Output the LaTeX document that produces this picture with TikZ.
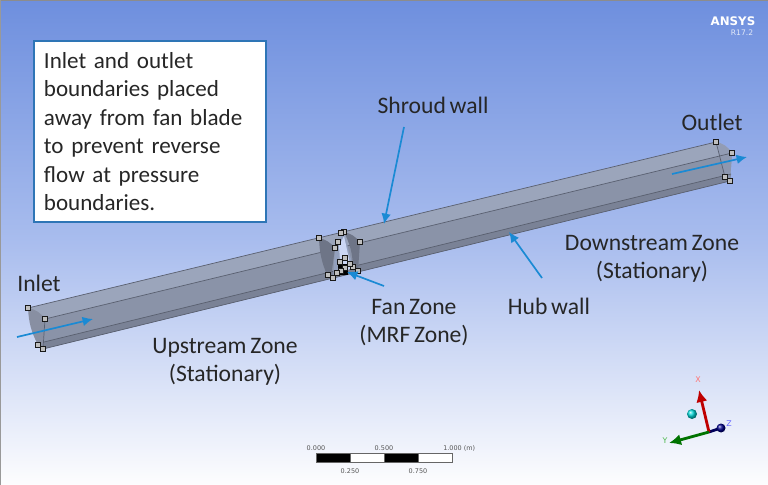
\documentclass[tikz,border=0pt]{standalone}
\usepackage{fontspec}
\setmainfont{Carlito}[WordSpace=0.7]
\newfontfamily\ansysfont{DejaVu Sans}
\usepackage{tikz}
\usetikzlibrary{positioning,arrows.meta,calc,shadings}
\definecolor{skytop}{HTML}{6E8FDE}
\definecolor{skymid}{HTML}{A9BDEE}
\definecolor{skylow}{HTML}{FDFDFE}
\definecolor{topface}{HTML}{9BA5BB}
\definecolor{sideface}{HTML}{8A93A8}
\definecolor{chamfer}{HTML}{7A8296}
\definecolor{endface}{HTML}{888FA2}
\definecolor{edge}{HTML}{5A6070}
\definecolor{callout}{HTML}{1A8AD4}
\definecolor{boxline}{HTML}{2E75B6}
\definecolor{bartext}{HTML}{555555}

\begin{document}
\begin{tikzpicture}[
  x=0.025cm, y=-0.025cm,
  every node/.style={font=\fontsize{16.8pt}{20pt}\selectfont, text=black!85},
  lbl/.style={align=center, inner sep=0pt},
  barlbl/.style={font=\fontsize{4.6pt}{5pt}\selectfont\ansysfont, text=bartext, inner sep=0pt},
  triadlbl/.style={font=\fontsize{5.6pt}{6pt}\selectfont\ansysfont, inner sep=0pt},
  callarrow/.style={-{Latex[length=2.6mm,width=2.4mm]}, line width=1.2pt, callout},
  handle/.style={draw=black!90, fill=black!25, line width=0.8pt, minimum size=3.2pt, inner sep=0pt, rectangle},
  ductedge/.style={draw=edge, line width=0.5pt},
]
  \useasboundingbox (0,0) rectangle (768,485);

  % Viewport background
  \shade[top color=skytop, bottom color=skylow, middle color=skymid, shading angle=0]
    (0,0) rectangle (768,485);
  \draw[black!45, line width=0.5pt] (0,0) -- (768,0);
  \draw[black!40, line width=1pt] (0,0) -- (0,485);

  % Duct faces
  \coordinate (inA) at (28,308);
  \coordinate (inB) at (45,319);
  \coordinate (inC) at (43,349);
  \coordinate (inD) at (38,345);
  \coordinate (outA) at (716,142);
  \coordinate (outB) at (732,153);
  \coordinate (outC) at (730,181);
  \coordinate (outD) at (725,177);

  \fill[topface] (inA) -- (outA) to[bend left=22] (outB) -- (inB) -- cycle;
  \fill[sideface] (inB) -- (outB) -- (outC) -- (inC) -- cycle;
  \fill[chamfer] (44,342) -- (731,174) -- (outC) -- (inC) -- cycle;
  \fill[endface] (inA) to[bend left=22] (inB) -- (inC) -- (inD) to[bend left=12] cycle;
  \fill[sideface!85!skymid, opacity=.75] (outA) to[bend left=22] (outB) -- (outC) -- (outD) -- cycle;
  \draw[ductedge] (inA) -- (outA);
  \draw[ductedge] (inB) -- (outB);
  \draw[ductedge] (44,342) -- (731,174);
  \draw[ductedge] (inC) -- (outC);
  \draw[ductedge] (inB) -- (inC);
  \draw[ductedge] (outA) -- (outD);

  % Fan zone
  \fill[sideface!70!skymid] (335,248) -- (344,232) -- (353,267) -- (333,278) -- cycle;
  \fill[skymid!60!white] (339,246) -- (344,236) -- (351,268) -- (341,274) -- cycle;
  \fill[chamfer!90!black] (319,238) to[bend left=18] (335,248) -- (331,277) -- (327,275) to[bend left=10] cycle;
  \fill[chamfer!90!black] (344,232) to[bend left=18] (360,242) -- (358,271) -- (353,267) to[bend right=12] cycle;
  \fill[black] (338,264) rectangle (348,275);
  \foreach \px/\py [count=\i] in {319/238, 335/248, 328/275, 333/278, 344/232, 341/233,
      338/242, 360/242, 358/271, 353/267, 345/258, 340/262, 345/268, 341/271, 350/264, 337/273}
    \node[handle] (fan\i) at (\px,\py) {};

  % Corner handles
  \node[handle] (h1) at (inA) {};
  \node[handle] (h2) at (inB) {};
  \node[handle] (h3) at (inC) {};
  \node[handle] (h4) at (inD) {};
  \node[handle] (h5) at (outA) {};
  \node[handle] (h6) at (outB) {};
  \node[handle] (h7) at (outC) {};
  \node[handle] (h8) at (outD) {};

  % Note box
  \node[draw=boxline, fill=white, line width=0.8pt, minimum width=5.8cm, minimum height=4.525cm,
        align=left, text width=5.3cm, inner sep=0pt,
        font=\fontsize{16.4pt}{20.2pt}\selectfont] (note) at (150,131.5)
    {Inlet and outlet\\boundaries placed\\away from fan blade\\to prevent reverse\\flow at pressure\\boundaries.};

  % Labels
  \node[lbl] (inlet)   at (39,283)  {Inlet};
  \node[lbl] (outlet)  at (712,122) {Outlet};
  \node[lbl] (shroud)  at (433,105) {Shroud wall};
  \node[lbl] (hub)     at (549,306) {Hub wall};
  \node[lbl] (down)    at (652,259) {Downstream Zone\\(Stationary)};
  \node[lbl] (up)      at (225,361.5) {Upstream Zone\\(Stationary)};
  \node[lbl] (fanzone) at (414,322.5) {Fan Zone\\(MRF Zone)};

  % Callout arrows
  \coordinate (inTail) at (17,337);
  \coordinate (inTip) at (93,319);
  \coordinate (outTail) at (672,174);
  \coordinate (outTip) at (747,157);
  \coordinate (shroudTail) at (404,127);
  \coordinate (shroudTip) at (384,224);
  \coordinate (hubTail) at (542,278);
  \coordinate (hubTip) at (509,232);
  \coordinate (fanTail) at (384,286);
  \coordinate (fanTip) at (347,272);
  \draw[callarrow] (inTail) -- (inTip);
  \draw[callarrow] (outTail) -- (outTip);
  \draw[callarrow] (shroudTail) -- (shroudTip);
  \draw[callarrow] (hubTail) -- (hubTip);
  \draw[callarrow] (fanTail) -- (fanTip);

  % Logo
  \node[font=\fontsize{8.4pt}{9pt}\selectfont\ansysfont\bfseries, text=white, inner sep=0pt] (ansys) at (733,21) {ANSYS};
  \node[font=\fontsize{5.4pt}{6pt}\selectfont\ansysfont, text=white!80!skytop, inner sep=0pt] (release) at (742,33) {R17.2};

  % Scale bar
  \foreach \xa/\xb/\shadecol in {316/350/black, 350/384/white, 384/418/black, 418/452/white}
    \filldraw[fill=\shadecol, draw=black!60, line width=0.4pt] (\xa,453) rectangle (\xb,462);
  \node[barlbl] (s0) at (316,448) {0.000};
  \node[barlbl] (s2) at (384,448) {0.500};
  \node[barlbl, right] (s4) at (443,448) {1.000 (m)};
  \node[barlbl] (s1) at (350,471) {0.250};
  \node[barlbl] (s3) at (418,471) {0.750};

  % Triad
  \coordinate (orig) at (709,432);
  \coordinate (xTip) at (699,390);
  \coordinate (yTip) at (669,443);
  \coordinate (zTip) at (721,428);
  \draw[blue!35!black, line width=2pt] (orig) -- (zTip);
  \shade[ball color=blue!55!black] (zTip) circle (4.5);
  \draw[-{Latex[length=3mm,width=2.8mm]}, red!75!black, line width=2pt] (orig) -- (xTip);
  \draw[-{Latex[length=3mm,width=2.8mm]}, green!45!black, line width=2pt] (orig) -- (yTip);
  \shade[ball color=cyan!70!teal] (692,414) circle (5);
  \node[triadlbl, text=red!55] (xlbl) at (698,380) {X};
  \node[triadlbl, text=green!60!black!70] (ylbl) at (665,441) {Y};
  \node[triadlbl, text=blue!60] (zlbl) at (729,424) {Z};
\end{tikzpicture}
\end{document}
